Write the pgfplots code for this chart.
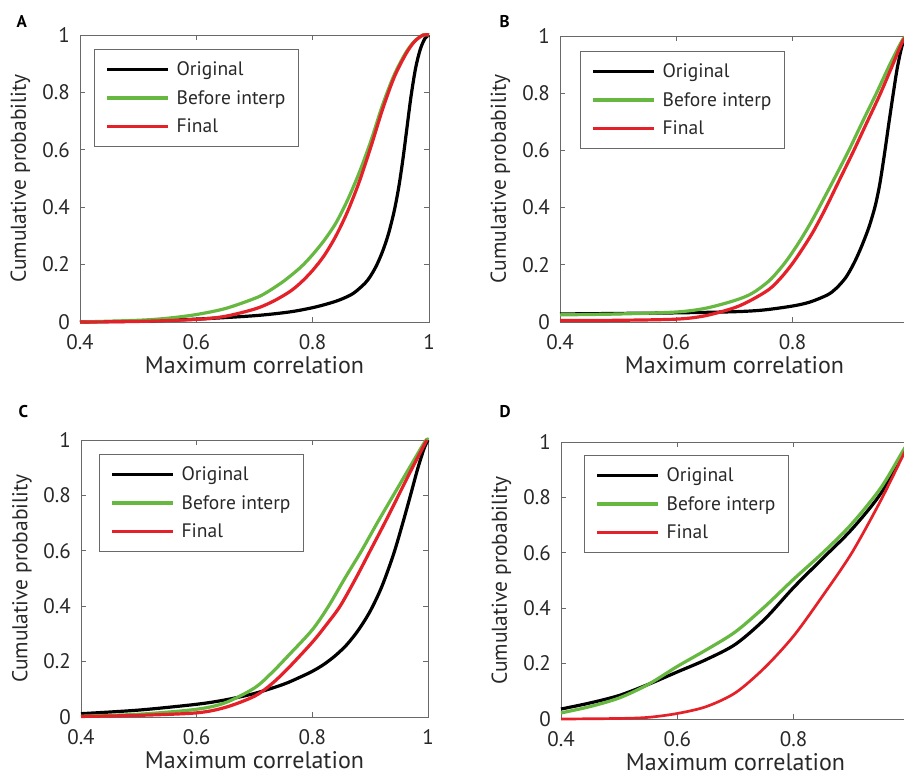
\documentclass[border=0pt]{standalone}
\usepackage{pgfplots}
\pgfplotsset{compat=1.18}
\usepackage{fontspec}
\setmainfont{PT Sans}
\definecolor{mgreen}{RGB}{102,184,64}
\definecolor{mred}{RGB}{228,32,40}
\definecolor{frm}{RGB}{105,105,105}
\definecolor{txt}{RGB}{40,40,40}
\pgfplotsset{
 cdfstyle/.style={
  scale only axis,
  anchor=north west,
  xmin=0.4, xmax=1, ymin=0, ymax=1,
  xtick={0.4,0.6,0.8,1}, ytick={0,0.2,0.4,0.6,0.8,1},
  /pgf/number format/assume math mode=true,
  tick align=inside, major tick length=5pt,
  axis line style={frm, line width=0.9pt},
  tick style={frm, line width=0.9pt},
  ticklabel style={font=\fontsize{21}{24}\selectfont, text=txt, inner sep=1pt},
  xticklabel style={yshift=-11pt},
  yticklabel style={xshift=-9pt},
  xlabel={Maximum correlation},
  ylabel={Cumulative probability},
  every axis x label/.style={at={(axis description cs:0.5,0)}, anchor=base, yshift=-51pt, font=\fontsize{24}{28}\selectfont, text=txt},
  every axis y label/.style={at={(axis description cs:-0.132,0.5)}, rotate=90, anchor=south, font=\fontsize{21.5}{25}\selectfont, text=txt},
  legend cell align=left,
  legend style={anchor=north west, draw=frm, line width=0.9pt, font=\fontsize{19.5}{23}\selectfont, text=txt,
    inner xsep=11pt, inner ysep=10pt, row sep=9.5pt, column sep=5pt},
  legend image code/.code={\draw[#1] (0pt,0pt) -- (61pt,0pt);},
  every axis plot/.append style={line width=3.2pt, smooth, no marks},
  clip=false,
 }
}
\begin{document}
\begin{tikzpicture}
% ---------------- A
\begin{axis}[cdfstyle, at={(80pt,-35pt)}, width=349pt, height=287pt,
  legend style={at={(axis description cs:0.0401,0.9512)}}]
\addplot[black] coordinates {(0.40,0.000) (0.50,0.003) (0.60,0.010) (0.70,0.022) (0.76,0.035) (0.80,0.050) (0.83,0.066) (0.85,0.080) (0.87,0.100) (0.89,0.135) (0.90,0.162) (0.91,0.198) (0.92,0.245) (0.93,0.305) (0.94,0.385) (0.948,0.470) (0.955,0.565) (0.962,0.675) (0.969,0.785) (0.977,0.885) (0.985,0.950) (0.993,0.988) (1.00,1.000)};
\addlegendentry{Original}
\addplot[mgreen] coordinates {(0.40,0.000) (0.50,0.006) (0.55,0.013) (0.60,0.026) (0.65,0.047) (0.70,0.082) (0.72,0.102) (0.75,0.142) (0.78,0.192) (0.80,0.235) (0.82,0.285) (0.84,0.345) (0.86,0.425) (0.88,0.520) (0.90,0.630) (0.92,0.755) (0.94,0.860) (0.96,0.938) (0.975,0.978) (0.99,1.000) (1.00,1.000)};
\addlegendentry{Before interp}
\addplot[mred] coordinates {(0.40,0.000) (0.50,0.002) (0.60,0.009) (0.65,0.020) (0.70,0.045) (0.73,0.070) (0.76,0.105) (0.78,0.138) (0.80,0.180) (0.82,0.232) (0.84,0.300) (0.86,0.385) (0.88,0.488) (0.90,0.610) (0.92,0.740) (0.94,0.852) (0.96,0.933) (0.975,0.977) (0.99,1.000) (1.00,1.000)};
\addlegendentry{Final}
\end{axis}
% ---------------- B
\begin{axis}[cdfstyle, at={(560pt,-36pt)}, width=349pt, height=286pt,
  xticklabels={0.4,0.6,0.8,{}},
  legend style={at={(axis description cs:0.0573,0.9476)}}]
\addplot[black] coordinates {(0.40,0.028) (0.50,0.030) (0.60,0.032) (0.70,0.036) (0.75,0.042) (0.80,0.056) (0.83,0.070) (0.86,0.095) (0.875,0.118) (0.89,0.152) (0.90,0.185) (0.91,0.225) (0.92,0.272) (0.93,0.325) (0.937,0.370) (0.943,0.415) (0.950,0.485) (0.958,0.590) (0.965,0.690) (0.973,0.800) (0.980,0.890) (0.988,0.965) (0.995,0.993) (1.00,1.000)};
\addlegendentry{Original}
\addplot[mgreen] coordinates {(0.40,0.025) (0.50,0.028) (0.60,0.035) (0.65,0.048) (0.70,0.075) (0.73,0.100) (0.76,0.145) (0.784,0.200) (0.80,0.245) (0.815,0.292) (0.83,0.343) (0.844,0.395) (0.87,0.495) (0.896,0.598) (0.92,0.700) (0.944,0.800) (0.967,0.900) (0.99,0.990) (1.00,1.000)};
\addlegendentry{Before interp}
\addplot[mred] coordinates {(0.40,0.005) (0.50,0.006) (0.60,0.010) (0.65,0.022) (0.70,0.050) (0.73,0.078) (0.76,0.115) (0.78,0.155) (0.798,0.200) (0.815,0.250) (0.835,0.315) (0.856,0.395) (0.88,0.495) (0.904,0.595) (0.927,0.695) (0.95,0.795) (0.97,0.890) (0.99,0.985) (1.00,1.000)};
\addlegendentry{Final}
\end{axis}
% ---------------- C
\begin{axis}[cdfstyle, at={(81pt,-440pt)}, width=347pt, height=277pt,
  legend style={at={(axis description cs:0.0519,0.9495)}}]
\addplot[black] coordinates {(0.40,0.012) (0.50,0.025) (0.60,0.046) (0.65,0.062) (0.70,0.085) (0.75,0.118) (0.78,0.145) (0.80,0.165) (0.82,0.190) (0.84,0.222) (0.86,0.262) (0.88,0.315) (0.90,0.382) (0.92,0.470) (0.94,0.585) (0.955,0.690) (0.969,0.795) (0.982,0.895) (0.993,0.968) (1.00,1.000)};
\addlegendentry{Original}
\addplot[mgreen] coordinates {(0.40,0.003) (0.50,0.010) (0.60,0.028) (0.65,0.052) (0.70,0.105) (0.73,0.160) (0.76,0.225) (0.80,0.315) (0.828,0.400) (0.856,0.500) (0.885,0.600) (0.912,0.700) (0.94,0.800) (0.968,0.900) (0.995,0.995) (1.00,1.000)};
\addlegendentry{Before interp}
\addplot[mred] coordinates {(0.40,0.002) (0.50,0.006) (0.60,0.015) (0.65,0.035) (0.70,0.075) (0.73,0.120) (0.76,0.180) (0.80,0.270) (0.825,0.335) (0.848,0.400) (0.875,0.500) (0.90,0.600) (0.925,0.700) (0.949,0.800) (0.973,0.900) (0.998,1.000)};
\addlegendentry{Final}
\end{axis}
% ---------------- D
\begin{axis}[cdfstyle, at={(561pt,-442pt)}, width=349pt, height=277pt,
  xticklabels={0.4,0.6,0.8,{}},
  legend style={at={(axis description cs:0.0659,0.9531)}}]
\addplot[black] coordinates {(0.40,0.036) (0.45,0.058) (0.50,0.085) (0.55,0.125) (0.60,0.170) (0.65,0.215) (0.70,0.270) (0.75,0.360) (0.80,0.475) (0.85,0.580) (0.90,0.685) (0.95,0.815) (0.99,0.970) (1.00,1.000)};
\addlegendentry{Original}
\addplot[mgreen] coordinates {(0.40,0.022) (0.45,0.045) (0.50,0.076) (0.55,0.125) (0.60,0.190) (0.65,0.250) (0.70,0.315) (0.75,0.405) (0.80,0.505) (0.85,0.600) (0.90,0.705) (0.95,0.835) (0.99,0.975) (1.00,1.000)};
\addlegendentry{Before interp}
\addplot[mred, line width=2.7pt] coordinates {(0.40,0.000) (0.50,0.002) (0.55,0.006) (0.60,0.020) (0.65,0.045) (0.70,0.095) (0.75,0.185) (0.80,0.300) (0.85,0.445) (0.90,0.600) (0.95,0.790) (0.99,0.960) (1.00,1.000)};
\addlegendentry{Final}
\end{axis}
\node[font=\bfseries\fontsize{17}{20}\selectfont, anchor=base west, text=black] at (13pt,-27pt) {A};
\node[font=\bfseries\fontsize{17}{20}\selectfont, anchor=base west, text=black] at (496pt,-27pt) {B};
\node[font=\bfseries\fontsize{17}{20}\selectfont, anchor=base west, text=black] at (15pt,-417pt) {C};
\node[font=\bfseries\fontsize{17}{20}\selectfont, anchor=base west, text=black] at (496pt,-417pt) {D};
\pgfresetboundingbox
\useasboundingbox (0pt,0pt) rectangle (904pt,-777pt);
\end{tikzpicture}
\end{document}
